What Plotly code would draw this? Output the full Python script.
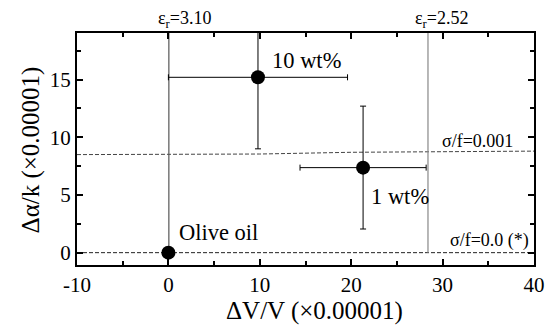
import plotly.graph_objects as go

# Data
labels = ["Olive oil", "10 wt%", "1 wt%"]
dv = [0.0, 9.8, 21.3]
dv_err = [0.0, 9.8, 6.9]
da = [0.0, 15.2, 7.37]
da_err_plus = [0.0, 6.2, 5.33]
da_err_minus = [0.0, 6.2, 5.32]

eps_labels = ["3.10", "2.52"]
eps_x = [0.05, 28.4]

sigma_x = [-10, 10, 20, 40]
sigma001_y = [8.5, 8.55, 8.7, 8.8]
sigma0_y = [0.0, 0.0, 0.0, 0.0]

x_ticks = [-10, 0, 10, 20, 30, 40]
x_ticktext = ["-10", "0", "10", "20", "30", "40"]
y_ticks = [0, 5, 10, 15]
y_ticktext = ["0", "5", "10", "15"]

FONT = "Liberation Serif, Times New Roman, serif"

fig = go.Figure()

fig.add_trace(go.Scatter(x=sigma_x, y=sigma001_y, mode="lines",
                         line=dict(color="#444", width=1, dash="4px,2px"),
                         showlegend=False, hoverinfo="skip"))
fig.add_trace(go.Scatter(x=sigma_x, y=sigma0_y, mode="lines",
                         line=dict(color="#222", width=1, dash="4px,2px"),
                         showlegend=False, hoverinfo="skip"))

for ex, col in zip(eps_x, ["#555", "#888"]):
    fig.add_trace(go.Scatter(x=[ex, ex], y=[0, 25], mode="lines",
                             line=dict(color=col, width=1.2),
                             showlegend=False, hoverinfo="skip"))

fig.add_trace(go.Scatter(
    x=dv, y=da, mode="markers",
    marker=dict(color="black", size=14),
    error_x=dict(type="data", array=dv_err, color="black", thickness=1, width=3),
    error_y=dict(type="data", array=da_err_plus, arrayminus=da_err_minus,
                 color="black", thickness=1, width=3),
    showlegend=False))

annotations = []
for txt, x in [("ε<sub>r</sub>=" + eps_labels[0], -1.34), ("ε<sub>r</sub>=" + eps_labels[1], 26.8)]:
    annotations.append(dict(x=x, y=1.0, xref="x", yref="paper", text=txt,
                            showarrow=False, xanchor="left", yanchor="bottom", yshift=0,
                            font=dict(family=FONT, size=18, color="black")))
for txt, x, y in [("10 wt%", 11.1, 16.7), ("1 wt%", 22.0, 4.9), ("Olive oil", 0.93, 1.73)]:
    annotations.append(dict(x=x, y=y, xref="x", yref="y", text=txt, showarrow=False,
                            xanchor="left", yanchor="middle",
                            font=dict(family=FONT, size=22.5, color="black")))
for txt, x, y in [("σ/f=0.001", 29.7, 9.68), ("σ/f=0.0 (*)", 30.55, 1.04)]:
    annotations.append(dict(x=x, y=y, xref="x", yref="y", text=txt, showarrow=False,
                            xanchor="left", yanchor="middle",
                            font=dict(family=FONT, size=18, color="black")))
annotations.append(dict(x=0.519, y=-0.2, xref="paper", yref="paper", text="ΔV/V (×0.00001)",
                        showarrow=False, xanchor="center", yanchor="middle",
                        font=dict(family=FONT, size=25, color="black")))
annotations.append(dict(x=-0.1017, y=0.496, xref="paper", yref="paper", text="Δα/k (×0.00001)",
                        showarrow=False, xanchor="center", yanchor="middle", textangle=-90,
                        font=dict(family=FONT, size=25, color="black")))

axis_common = dict(showline=True, linecolor="black", linewidth=2, mirror="allticks",
                   ticks="inside", ticklen=6, tickwidth=1.8, tickcolor="black",
                   showgrid=False, zeroline=False,
                   tickfont=dict(family=FONT, size=21, color="black"))

fig.update_layout(
    width=557, height=325,
    margin=dict(l=77, r=18, t=33, b=60),
    paper_bgcolor="white", plot_bgcolor="white",
    annotations=annotations,
    xaxis=dict(range=[-10, 40], tickmode="array", tickvals=x_ticks, ticktext=x_ticktext,
               minor=dict(dtick=5, tick0=0, ticks="inside", ticklen=4, tickcolor="black", tickwidth=1.8),
               **axis_common),
    yaxis=dict(range=[-1.07, 19.04], tickmode="array", tickvals=y_ticks, ticktext=y_ticktext,
               minor=dict(dtick=2.5, tick0=0, ticks="inside", ticklen=4, tickcolor="black", tickwidth=1.8),
               **axis_common),
)

fig.write_html("out.html")
